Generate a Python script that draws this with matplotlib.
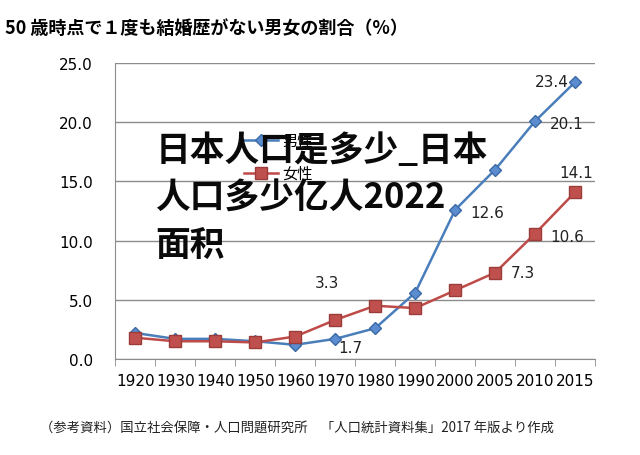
import matplotlib.pyplot as plt
from matplotlib.lines import Line2D

plt.rcParams['font.family'] = ['Noto Sans CJK JP', 'DejaVu Sans']

years = ['1920', '1930', '1940', '1950', '1960', '1970', '1980', '1990',
         '2000', '2005', '2010', '2015']
male = [2.2, 1.7, 1.7, 1.5, 1.2, 1.7, 2.6, 5.6, 12.6, 16.0, 20.1, 23.4]
female = [1.8, 1.5, 1.5, 1.4, 1.9, 3.3, 4.5, 4.3, 5.8, 7.3, 10.6, 14.1]
yticks = [0, 5, 10, 15, 20, 25]
overlay = ['日本人口是多少_日本', '人口多少亿人2022', '面积']

# label offsets in points for the annotated points
male_labels = {5: (11, -6), 8: (23, -2), 10: (23, -2), 11: (-17, 0)}
female_labels = {5: (-6, 27), 9: (20, 0), 10: (23, -2), 11: (1, 14)}

blue = '#4a7ebb'
red = '#be4b48'

fig = plt.figure(figsize=(6.4, 4.56), dpi=100)
ax = fig.add_axes([0.18, 0.2105, 0.75, 0.6491])

x = list(range(len(years)))
ax.plot(x, male, color=blue, lw=1.8, marker='D', ms=6,
        markerfacecolor='#5b8ccf', markeredgecolor='#3c6aa6', zorder=3)
ax.plot(x, female, color=red, lw=1.8, marker='s', ms=8,
        markerfacecolor='#c0504d', markeredgecolor='#9c3c3a', zorder=3)

for i, (dx, dy) in male_labels.items():
    ax.annotate(f'{male[i]:.1f}', (x[i], male[i]), xytext=(dx, dy),
                textcoords='offset points', ha='center', va='center',
                fontsize=11, family='DejaVu Sans', color='#222222')
for i, (dx, dy) in female_labels.items():
    ax.annotate(f'{female[i]:.1f}', (x[i], female[i]), xytext=(dx, dy),
                textcoords='offset points', ha='center', va='center',
                fontsize=11, family='DejaVu Sans', color='#222222')

ax.set_xlim(-0.5, len(years) - 0.5)
ax.set_ylim(0, 25)
ax.set_yticks(yticks)
ax.set_yticklabels([f'{v:.1f}' for v in yticks], family='DejaVu Sans', fontsize=11)
ax.set_xticks(x)
ax.set_xticklabels(years, family='DejaVu Sans', fontsize=11)
ax.set_xticks([i - 0.5 for i in range(len(years) + 1)], minor=True)
ax.tick_params(axis='x', which='major', length=0, pad=10)
ax.tick_params(axis='x', which='minor', length=5, color='#888888')
ax.tick_params(axis='y', length=0, pad=16)
ax.grid(axis='y', color='#8c8c8c', lw=1)
ax.set_axisbelow(True)
for side in ['top', 'right']:
    ax.spines[side].set_visible(False)
ax.spines['left'].set_color('#8c8c8c')
ax.spines['bottom'].set_color('#8c8c8c')

handles = [
    Line2D([0], [0], color=blue, lw=1.8, marker='D', ms=6,
           markerfacecolor='#5b8ccf', markeredgecolor='#3c6aa6', label='男性'),
    Line2D([0], [0], color=red, lw=1.8, marker='s', ms=8,
           markerfacecolor='#c0504d', markeredgecolor='#9c3c3a', label='女性'),
]
ax.legend(handles=handles, loc='upper left', bbox_to_anchor=(0.24, 0.813),
          frameon=False, fontsize=11, handlelength=2.2, labelspacing=1.05,
          handletextpad=0.3)

fig.text(0.008, 0.938, '50 歳時点で１度も結婚歴がない男女の割合（%）',
         fontsize=13, fontweight='bold', va='center', ha='left')
fig.text(0.062, 0.062,
         '（参考資料）国立社会保障・人口問題研究所　「人口統計資料集」2017 年版より作成',
         fontsize=9.6, va='center', ha='left', color='#222222')

# overlaid caption, one text per line
for k, line in enumerate(overlay):
    fig.text(0.243, 0.671 - k * 0.105, line,
             fontsize=25, fontweight='heavy', va='center', ha='left',
             color='#0a0a0a', family=['Noto Sans CJK SC', 'DejaVu Sans'],
             zorder=10)

fig.savefig('out.png', dpi=100)
